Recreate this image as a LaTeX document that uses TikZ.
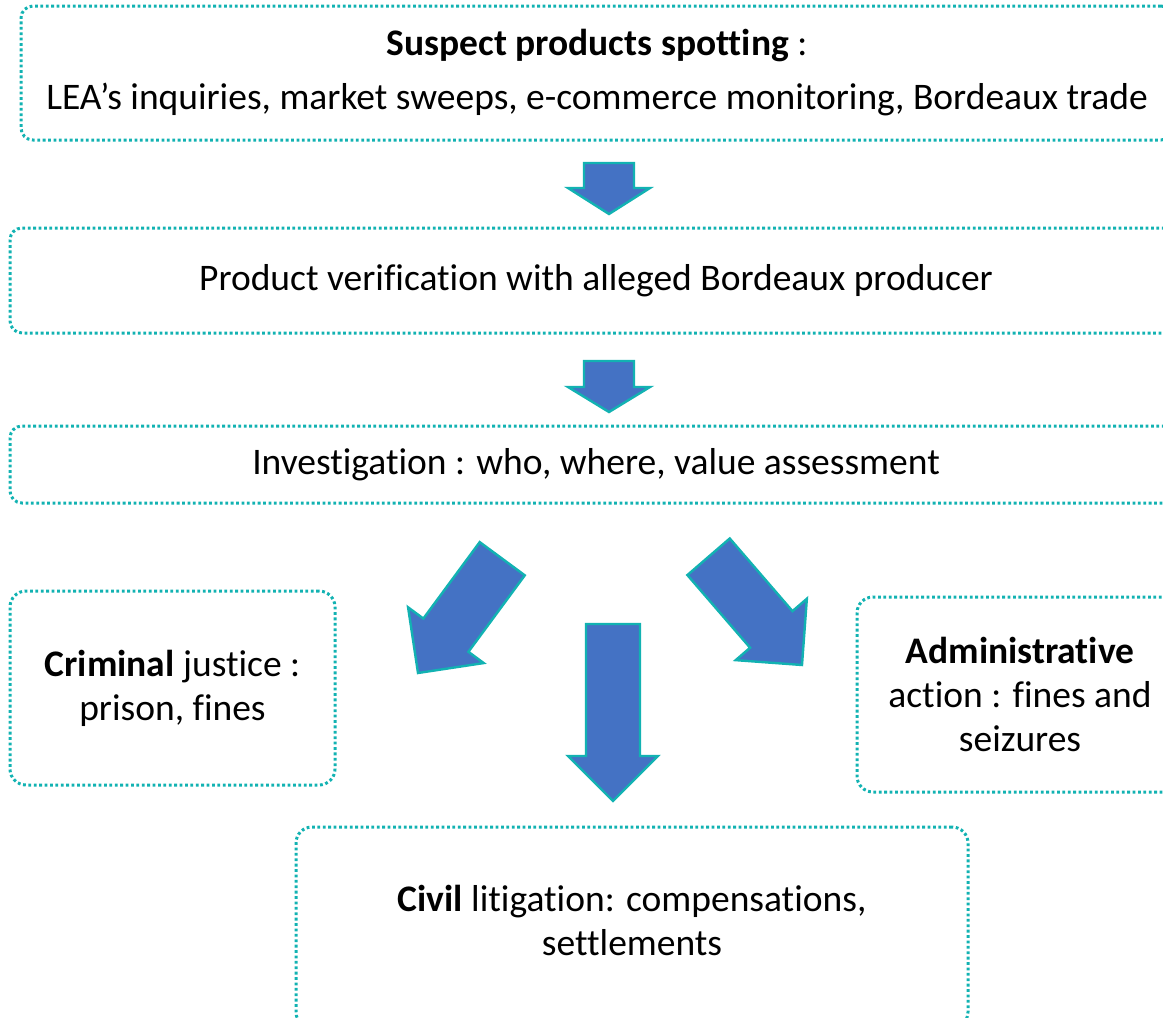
\documentclass[tikz,border=0pt]{standalone}
\usepackage{fontspec}
\setmainfont{Carlito}[Ligatures=NoCommon]
\usepackage{tikz}
\definecolor{boxteal}{HTML}{12B2B2}
\definecolor{arrowblue}{HTML}{4472C4}
\tikzset{
  stagebox/.style={draw=boxteal, line width=3pt, dash pattern=on 2.8pt off 2.6pt,
    rounded corners=12pt, align=center, inner sep=0pt,
    font=\fontsize{37.5}{44}\selectfont},
  blockarrow/.style={draw=boxteal, fill=arrowblue, line width=2.4pt, line join=miter},
}
% tip x, tip y, rotation, length, shaft half width, head half width, head length
\newcommand{\bigarrow}[7]{%
  \begin{scope}[shift={(#1,#2)},rotate=#3]
  \filldraw[blockarrow] (-#5,-#4) -- (#5,-#4) -- (#5,-#7) -- (#6,-#7) -- (0,0)
    -- (-#6,-#7) -- (-#5,-#7) -- cycle;
  \end{scope}}

\begin{document}
\begin{tikzpicture}[x=1pt,y=-1pt]
\useasboundingbox (0,0) rectangle (1163,1018);
\clip (0,0) rectangle (1163,1018);
% Drawing the stage boxes
\node[stagebox, minimum width=1152pt, minimum height=134pt] (spotting) at (597,73)
  {\textbf{Suspect products spotting} :\\[10pt] LEA’s inquiries, market sweeps, e-commerce monitoring, Bordeaux trade};
\node[stagebox, minimum width=1172pt, minimum height=105pt] (verification) at (596,280.5)
  {Product verification with alleged Bordeaux producer};
\node[stagebox, minimum width=1172pt, minimum height=77pt] (investigation) at (596,464.5)
  {Investigation : who, where, value assessment};
% Done with stages; drawing outcomes
\node[stagebox, rounded corners=16pt, minimum width=325pt, minimum height=194pt] (criminal) at (172.5,688)
  {\textbf{Criminal} justice :\\ prison, fines};
\node[stagebox, rounded corners=16pt, minimum width=326pt, minimum height=195pt] (admin) at (1020,694.5)
  {\textbf{Administrative}\\ action : fines and\\ seizures};
\node[stagebox, rounded corners=16pt, text depth=14pt, minimum width=672pt, minimum height=201pt] (civil) at (632,927.5)
  {\textbf{Civil} litigation: compensations,\\ settlements};
% Drawing block arrows
\bigarrow{609}{214}{0}{51}{25}{41}{26}
\bigarrow{609}{412}{0}{51}{25}{41}{25}
\bigarrow{418}{673}{-36.4}{142}{28}{47}{47}
\bigarrow{613}{801}{0}{177}{27}{45}{45}
\bigarrow{802}{665}{40.8}{143}{28}{47}{47}
\end{tikzpicture}
\end{document}
